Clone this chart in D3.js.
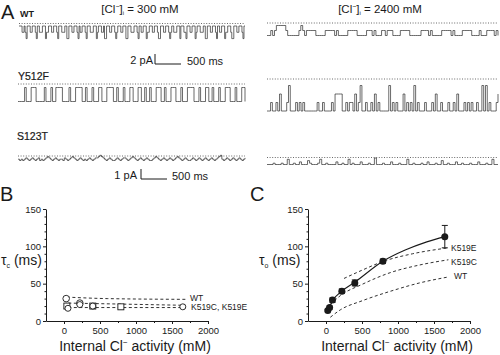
<!DOCTYPE html>
<html><head><meta charset="utf-8">
<script src="https://cdn.jsdelivr.net/npm/d3@7"></script>
<style>body{margin:0;background:#fff}svg{display:block;font-family:"Liberation Sans",Arial,sans-serif}</style>
</head><body><svg id="c" width="500" height="355"></svg>
<script>
// ---------- DATA ----------
// single-channel traces: current level per sample
const traceWT300   = "0001101200011000120011100021100011000120001110022000110001201100012000111000210001102200011000121000110002200011100012001100021100011000122000110001210011100020001120001100021000111002200011000120011000211000122000110001200";
const traceWT2400  = "0010122222100000012101111100000111110100000111110000011101000110111000011111000000111101000001111101000011111000010001111010";
const traceY300    = "0000200022200000200020022220000200022220020002000220002222002000200022000220020020002220020002220002000222200020002200200020002220002000220";
const traceY2400   = "0010010200013000101010000000100100001022220010110201300100102010000030101000201010301000100010200100010010200010101001003030100012";
const traceS300    = "1010121012101201012321012101102101232101210101210122343210121001210122101232101210121001232101210121012321012100121012101210121012341012101210121012";
const traceS2400   = "0001000100400100200031000140010000200100401000200010050001000200010004001000100200010030010002001000100020001004000";

// panel B: closing time constant tau_c (ms)
const bWT_x    = [30, 220];
const bWT_y    = [30, 24];
const bK519C_x = [40, 400, 790];
const bK519C_y = [20, 20, 19];
const bK519C_e = [3, 3, 3];
const bK519E_x = [55, 220, 400, 1650];
const bK519E_y = [17, 22, 20, 19];
const bFitWT   = [[40, 32], [600, 30], [1700, 29]];
const bFitC    = [[60, 24], [1690, 21]];
const bFitE    = [[60, 18], [1690, 18]];

// panel C: opening time constant tau_o (ms)
const cCl      = [25, 50, 90, 220, 400, 790, 1650];
const cTau     = [14, 18, 28, 40, 51, 80, 113];
const cErr     = [1.5, 2, 3, 3, 4, 3, 15];
const cFitSolid = [[20, 12], [50, 19], [90, 27], [220, 40], [400, 52], [790, 80], [1100, 95], [1400, 106], [1650, 113]];
const cFitE    = [[250, 57], [500, 68], [800, 80], [1200, 90], [1700, 98]];
const cFitC    = [[60, 22], [200, 34], [500, 49], [900, 65], [1300, 75], [1700, 82]];
const cFitWT   = [[60, 5], [200, 15], [500, 27], [900, 40], [1300, 51], [1700, 59]];

const xTicks = [0, 500, 1000, 1500, 2000];
const yTicks = [0, 50, 100, 150];

// ---------- DRAW ----------
const svg = d3.select("#c");
const ink = "#1a1a1a";

function txt(x, y, s, size, opts = {}) {
  const t = svg.append("text").attr("x", x).attr("y", y)
    .attr("font-size", size).attr("fill", ink)
    .attr("text-anchor", opts.anchor || "start")
    .attr("font-weight", opts.weight || "normal");
  if (s) t.text(s);
  return t;
}

// panel letters
txt(1, 19, "A", 20);
txt(0, 201, "B", 20);
txt(250, 201, "C", 20);

// condition headers
function clHeader(cx, y, val) {
  const t = txt(cx, y, "", 11.5, {anchor: "middle"});
  t.append("tspan").text("[Cl");
  t.append("tspan").text("−").attr("font-size", 7).attr("dy", -4);
  t.append("tspan").text("]").attr("font-size", 11.5).attr("dy", 4);
  t.append("tspan").text("i").attr("font-size", 6).attr("dy", 2);
  t.append("tspan").text(" = " + val + " mM").attr("font-size", 11.5).attr("dy", -2);
}
clHeader(140, 13, "300");
clHeader(380, 13, "2400");

txt(20, 17, "WT", 9, {weight: "bold"});
txt(18, 80, "Y512F", 10.5).attr("stroke", ink).attr("stroke-width", 0.2);
txt(17, 140, "S123T", 10.5).attr("stroke", ink).attr("stroke-width", 0.2);

// traces
function trace(str, x0, x1, y0, step, dotY) {
  const vals = Array.from(str, Number);
  const xs = d3.scaleLinear().domain([0, vals.length - 1]).range([x0, x1]);
  const ys = d3.scaleLinear().domain([0, 1]).range([y0, y0 - step]);
  if (dotY != null) {
    svg.append("line").attr("x1", x0).attr("x2", x1).attr("y1", dotY).attr("y2", dotY)
      .attr("stroke", "#444").attr("stroke-width", 0.8).attr("stroke-dasharray", "1,1.6");
  }
  const line = d3.line().x((d, i) => xs(i)).y(d => ys(d)).curve(d3.curveStepAfter);
  svg.append("path").datum(vals).attr("d", line)
    .attr("fill", "none").attr("stroke", "#2a2a2a").attr("stroke-width", 0.7);
}
trace(traceWT300, 19, 245, 26, -6.3, 23.5);
trace(traceWT2400, 267, 498, 35.5, 5, 23);
trace(traceY300, 18, 245, 101.5, 7, 84);
trace(traceY2400, 267, 498, 111, 8.5, 79);
trace(traceS300, 18, 245, 160.5, 1.3, 156);
trace(traceS2400, 267, 498, 164.5, 1.3, 157.5);

// scale bars
function scaleBar(label, xTxtEnd, xBar, yBar, barH, barW, msX) {
  txt(xTxtEnd, yBar, label, 11, {anchor: "end"});
  svg.append("line").attr("x1", xBar).attr("x2", xBar).attr("y1", yBar - barH).attr("y2", yBar)
    .attr("stroke", ink).attr("stroke-width", 1);
  svg.append("line").attr("x1", xBar).attr("x2", xBar + barW).attr("y1", yBar).attr("y2", yBar)
    .attr("stroke", ink).attr("stroke-width", 1);
  txt(msX, yBar + 1, "500 ms", 11);
}
scaleBar("2 pA", 153, 155, 64, 10, 26, 187);
scaleBar("1 pA", 137, 141, 179, 10, 26, 172);

// ---------- plots ----------
function plot(xR, yLab, sub) {
  const x = d3.scaleLinear().domain([-250, 2000]).range(xR);
  const y = d3.scaleLinear().domain([0, 150]).range([321, 209]);
  const g = svg.append("g");
  g.append("g").attr("transform", "translate(0,321)")
    .call(d3.axisBottom(x).tickValues(xTicks).tickFormat(d3.format("d")).tickSize(3).tickSizeOuter(0).tickPadding(3));
  g.append("g").attr("transform", "translate(0,321)")
    .call(d3.axisBottom(x).tickValues(d3.range(250, 2000, 500)).tickSize(2).tickFormat("").tickSizeOuter(0))
    .select(".domain").remove();
  g.append("g").attr("transform", `translate(${xR[0]},0)`)
    .call(d3.axisLeft(y).tickValues(yTicks).tickSize(3).tickSizeOuter(0).tickPadding(2));
  g.append("g").attr("transform", `translate(${xR[0]},0)`)
    .call(d3.axisLeft(y).tickValues(d3.range(10, 150, 10).filter(v => v % 50)).tickSize(1.5).tickFormat("").tickSizeOuter(0))
    .select(".domain").remove();
  g.selectAll(".domain, .tick line").attr("stroke", ink).attr("stroke-width", 1);
  g.selectAll(".tick text").attr("font-size", 9.5).attr("fill", ink)
    .attr("font-family", '"Liberation Sans",Arial,sans-serif');
  const t = txt((xR[0] + xR[1]) / 2 + 8, 351, "", 14, {anchor: "middle"});
  t.append("tspan").text("Internal Cl");
  t.append("tspan").text("−").attr("font-size", 8).attr("dy", -6);
  t.append("tspan").text(" activity (mM)").attr("font-size", 14).attr("dy", 6);
  const yl = txt(yLab, 265, "", 14);
  yl.append("tspan").text("τ");
  yl.append("tspan").text(sub).attr("font-size", 7).attr("dy", 3);
  yl.append("tspan").text(" (ms)").attr("font-size", 14).attr("dy", -3);
  return {x, y};
}

const dashed = (s, pts) => svg.append("path").datum(pts)
  .attr("d", d3.line().x(d => s.x(d[0])).y(d => s.y(d[1])).curve(d3.curveMonotoneX))
  .attr("fill", "none").attr("stroke", ink).attr("stroke-width", 0.9).attr("stroke-dasharray", "3,2.5");
function errBars(s, xs, ys, es) {
  xs.forEach((xv, i) => {
    const cx = s.x(xv);
    svg.append("line").attr("x1", cx).attr("x2", cx).attr("y1", s.y(ys[i] - es[i])).attr("y2", s.y(ys[i] + es[i]))
      .attr("stroke", ink).attr("stroke-width", 1);
    [ys[i] - es[i], ys[i] + es[i]].forEach(v => svg.append("line").attr("x1", cx - 3).attr("x2", cx + 3)
      .attr("y1", s.y(v)).attr("y2", s.y(v)).attr("stroke", ink).attr("stroke-width", 1));
  });
}

// Panel B
const B = plot([46, 208], 1, "c");
dashed(B, bFitWT); dashed(B, bFitC); dashed(B, bFitE);
errBars(B, bK519C_x, bK519C_y, bK519C_e);
bWT_x.forEach((xv, i) => svg.append("circle").attr("cx", B.x(xv)).attr("cy", B.y(bWT_y[i])).attr("r", 3.3)
  .attr("fill", "#fff").attr("stroke", ink).attr("stroke-width", 0.9));
bK519C_x.forEach((xv, i) => svg.append("rect").attr("x", B.x(xv) - 3).attr("y", B.y(bK519C_y[i]) - 3)
  .attr("width", 6).attr("height", 6).attr("fill", "#fff").attr("stroke", ink).attr("stroke-width", 0.9));
bK519E_x.forEach((xv, i) => svg.append("circle").attr("cx", B.x(xv)).attr("cy", B.y(bK519E_y[i])).attr("r", 3)
  .attr("fill", "#fff").attr("stroke", ink).attr("stroke-width", 0.9));
txt(190, 301, "WT", 8.5);
txt(191, 310, "K519C, K519E", 8.5);

// Panel C
const C = plot([308, 470], 259, "o");
dashed(C, cFitE); dashed(C, cFitC); dashed(C, cFitWT);
svg.append("path").datum(cFitSolid)
  .attr("d", d3.line().x(d => C.x(d[0])).y(d => C.y(d[1])).curve(d3.curveMonotoneX))
  .attr("fill", "none").attr("stroke", ink).attr("stroke-width", 1.1);
errBars(C, cCl, cTau, cErr);
cCl.forEach((xv, i) => svg.append("circle").attr("cx", C.x(xv)).attr("cy", C.y(cTau[i])).attr("r", 3.5)
  .attr("fill", ink));
txt(451, 251, "K519E", 8.5);
txt(451, 265, "K519C", 8.5);
txt(454, 279, "WT", 8.5);
</script></body></html>
